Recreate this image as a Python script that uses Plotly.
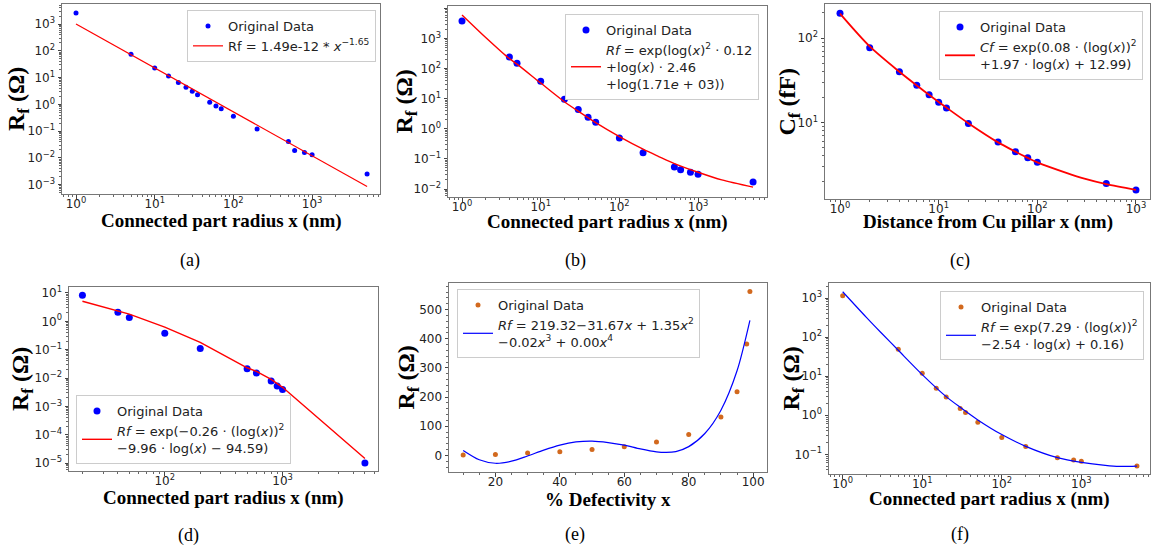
import plotly.graph_objects as go

# ------------------------------------------------------------
# data
# ------------------------------------------------------------

# (a) power law fit
a_x = [1, 5, 10, 15, 20, 25, 30, 35, 50, 60, 70, 100, 200, 500, 600, 800, 1000, 5000]
a_y = [2600, 74, 23, 11.5, 6.5, 4.4, 3.1, 2.3, 1.2, 0.87, 0.69, 0.36, 0.12, 0.041, 0.019, 0.016, 0.013, 0.0025]
a_fit_x = [1, 5000]
a_fit_y = [1000, 0.00085]

# (b)
b_x = [1, 4, 5, 10, 20, 30, 40, 50, 100, 200, 500, 600, 800, 1000, 5000]
b_y = [3800, 240, 150, 38, 9.6, 4.4, 2.4, 1.65, 0.49, 0.16, 0.054, 0.044, 0.036, 0.031, 0.017]
b_fit_x = [1, 2, 3.16, 4, 5, 10, 20, 31.6, 50, 100, 200, 316, 500, 1000, 2000, 5000]
b_fit_y = [6000, 1070, 363, 215, 140, 33, 7.9, 3.5, 1.6, 0.55, 0.21, 0.12, 0.07, 0.036, 0.02, 0.0115]

# (c)
c_x = [1, 2, 4, 6, 8, 10, 12, 20, 40, 60, 80, 100, 500, 1000]
c_y = [198, 77, 40, 27.7, 21.3, 17.4, 14.9, 9.7, 5.85, 4.49, 3.81, 3.36, 1.88, 1.58]
c_fit_x = [1, 2, 4, 6, 8, 10, 12, 20, 40, 60, 80, 100, 200, 300, 500, 1000]
c_fit_y = [196, 80, 40, 27.5, 21.3, 17.5, 15, 9.8, 5.8, 4.5, 3.8, 3.35, 2.5, 2.15, 1.85, 1.58]

# (d)
d_x = [20, 40, 50, 100, 200, 500, 600, 800, 900, 1000, 5000]
d_y = [8.3, 2.1, 1.37, 0.38, 0.11, 0.021, 0.015, 0.0079, 0.0052, 0.0039, 0.00001]
d_fit_y = [5.1, 2.4, 1.8, 0.62, 0.18, 0.023, 0.017, 0.0089, 0.0065, 0.0047, 0.0000144]

# (e) polynomial fit, linear axes
e_x = [10, 20, 30, 40, 50, 60, 70, 80, 90, 95, 98, 99]
e_y = [1, 3, 8, 12.5, 20.5, 29.7, 45.7, 72, 132, 218, 382, 562]
e_fit_x = [10, 15, 20, 25, 30, 35, 40, 45, 50, 55, 60, 65, 70, 73, 76, 80, 85, 90, 95, 99]
e_fit_y = [17, -15, -27, -20, -2, 18, 35, 46, 49, 44, 35, 22, 12, 10, 13, 30, 75, 155, 290, 463]

# (f)
f_x = [1, 5, 10, 15, 20, 30, 35, 50, 100, 200, 500, 800, 1000, 5000]
f_y = [1150, 49, 11.9, 4.9, 2.95, 1.48, 1.17, 0.66, 0.27, 0.158, 0.082, 0.072, 0.066, 0.05]
f_fit_x = [1, 2, 3, 5, 10, 20, 30, 50, 100, 200, 500, 1000, 2000, 3000, 5000]
f_fit_y = [1450, 315, 133, 46, 11, 3.0, 1.6, 0.76, 0.32, 0.16, 0.082, 0.062, 0.052, 0.049, 0.05]

# tick exponents / labels
a_xexp = [0, 1, 2, 3]
a_yexp = [-3, -2, -1, 0, 1, 2, 3]
b_xexp = [0, 1, 2, 3]
b_yexp = [-2, -1, 0, 1, 2, 3, 4]
c_xexp = [0, 1, 2, 3]
c_yexp = [1, 2]
d_xexp = [2, 3]
d_yexp = [-5, -4, -3, -2, -1, 0, 1]
e_xticks = [20, 40, 60, 80, 100]
e_yticks = [0, 100, 200, 300, 400, 500]
f_xexp = [0, 1, 2, 3]
f_yexp = [-1, 0, 1, 2, 3]

captions = ["(a)", "(b)", "(c)", "(d)", "(e)", "(f)"]

BLUE = "#0000ff"
RED = "#ff0000"
ORANGE = "#d2691e"
W, H = 1151, 551

fig = go.Figure()

legend_fit = {
    "a": "Rf = 1.49e-12 * <i>x</i><sup>−1.65</sup>",
    "b": "<i>Rf</i> = exp(log(<i>x</i>)<sup>2</sup> · 0.12<br>+log(<i>x</i>) · 2.46<br>+log(1.71<i>e</i> + 03))",
    "c": "<i>Cf</i> = exp(0.08 · (log(<i>x</i>))<sup>2</sup><br>+1.97 · log(<i>x</i>) + 12.99)",
    "d": "<i>Rf</i> = exp(−0.26 · (log(<i>x</i>))<sup>2</sup><br>−9.96 · log(<i>x</i>) − 94.59)",
    "e": "<i>Rf</i> = 219.32−31.67<i>x</i> + 1.35<i>x</i><sup>2</sup><br>−0.02<i>x</i><sup>3</sup> + 0.00<i>x</i><sup>4</sup>",
    "f": "<i>Rf</i> = exp(7.29 · (log(<i>x</i>))<sup>2</sup><br>−2.54 · log(<i>x</i>) + 0.16)",
}

panels = [
    # key, x, y, fitx, fity, markercolor, linecolor, msize, linewidth, shape
    ("a", a_x, a_y, a_fit_x, a_fit_y, BLUE, RED, 5, 1.2, "linear"),
    ("b", b_x, b_y, b_fit_x, b_fit_y, BLUE, RED, 7, 1.4, "spline"),
    ("c", c_x, c_y, c_fit_x, c_fit_y, BLUE, RED, 7, 1.8, "spline"),
    ("d", d_x, d_y, d_x, d_fit_y, BLUE, RED, 7, 1.4, "linear"),
    ("e", e_x, e_y, e_fit_x, e_fit_y, ORANGE, BLUE, 5, 1.2, "spline"),
    ("f", f_x, f_y, f_fit_x, f_fit_y, ORANGE, BLUE, 5, 1.2, "spline"),
]

# frame boxes in pixels: left, right, top, bottom
frames = {
    "a": (62, 380, 4, 194),
    "b": (448, 767, 6, 197),
    "c": (825, 1150, 4, 199),
    "d": (69, 378, 287, 471),
    "e": (449, 767, 283, 472),
    "f": (829, 1150, 283, 474),
}
xranges = {"a": [-0.178, 3.863], "b": [-0.178, 3.876], "c": [-0.152, 3.142],
           "d": [1.187, 3.81], "e": [5.6, 104.3], "f": [-0.172, 3.863]}
yranges = {"a": [-3.35, 3.75], "b": [-2.265, 4.077], "c": [0.091, 2.407],
           "d": [-5.28, 1.21], "e": [-57, 591], "f": [-1.504, 3.385]}
xexps = {"a": a_xexp, "b": b_xexp, "c": c_xexp, "d": d_xexp, "f": f_xexp}
yexps = {"a": a_yexp, "b": b_yexp, "c": c_yexp, "d": d_yexp, "f": f_yexp}
xtitles = {"a": "Connected part radius x (nm)", "b": "Connected part radius x (nm)",
           "c": "Distance from Cu pillar x (nm)", "d": "Connected part radius x (nm)",
           "e": "% Defectivity x", "f": "Connected part radius x (nm)"}
ytitles = {k: "R<sub>f</sub> (Ω)" for k in "abdef"}
ytitles["c"] = "C<sub>f</sub> (fF)"
# title centres in pixels: x-title y, y-title x
xtitle_y = {"a": 221, "b": 222, "c": 222, "d": 498, "e": 499, "f": 499}
ytitle_x = {"a": 18, "b": 405, "c": 788, "d": 22, "e": 407, "f": 792}
legpos = {
    "a": dict(x=376 / W, y=1 - 10 / H, xanchor="right", yanchor="top"),
    "b": dict(x=759 / W, y=1 - 14 / H, xanchor="right", yanchor="top"),
    "c": dict(x=1143 / W, y=1 - 11 / H, xanchor="right", yanchor="top"),
    "d": dict(x=76 / W, y=1 - 464 / H, xanchor="left", yanchor="bottom"),
    "e": dict(x=457 / W, y=1 - 289 / H, xanchor="left", yanchor="top"),
    "f": dict(x=1144 / W, y=1 - 291 / H, xanchor="right", yanchor="top"),
}

tickfont = dict(family="DejaVu Sans", size=12, color="#222")
layout = {}

for i, (k, x, y, fx, fy, mc, lc, ms, lw, shape) in enumerate(panels):
    n = "" if i == 0 else str(i + 1)
    leg = "legend" + n
    fig.add_trace(go.Scatter(x=x, y=y, mode="markers", name="Original Data",
                             marker=dict(color=mc, size=ms), xaxis="x" + n, yaxis="y" + n,
                             legend=leg))
    fig.add_trace(go.Scatter(x=fx, y=fy, mode="lines", name=legend_fit[k],
                             line=dict(color=lc, width=lw, shape=shape, smoothing=0.8),
                             xaxis="x" + n, yaxis="y" + n, legend=leg))
    l, r, t, b = frames[k]
    common = dict(showline=True, mirror=True, linecolor="#777", linewidth=1,
                  ticks="outside", ticklen=3.5, tickcolor="#444", showgrid=False,
                  zeroline=False, tickfont=tickfont, automargin=False)
    xa = dict(common, domain=[l / W, r / W], anchor="y" + n, range=xranges[k],
              ticklabelstandoff=-5)
    ya = dict(common, domain=[1 - b / H, 1 - t / H], anchor="x" + n, range=yranges[k])
    if k == "e":
        xa.update(type="linear", tickvals=e_xticks,
                  minor=dict(ticks="outside", ticklen=2, dtick=5, tickcolor="#666"))
        ya.update(type="linear", tickvals=e_yticks,
                  minor=dict(ticks="outside", ticklen=2, dtick=20, tickcolor="#666"))
    else:
        xa.update(type="log", tickvals=[10 ** e for e in xexps[k]],
                  ticktext=["10<sup>%d</sup>" % e for e in xexps[k]],
                  minor=dict(ticks="outside", ticklen=2, dtick="D1", tickcolor="#666"))
        ya.update(type="log", tickvals=[10.0 ** e for e in yexps[k]],
                  ticktext=["10<sup>%d</sup>" % e if e >= 0 else "10<sup>−%d</sup>" % -e
                            for e in yexps[k]],
                  minor=dict(ticks="outside", ticklen=2, dtick="D1", tickcolor="#666"))
    layout["xaxis" + n] = xa
    layout["yaxis" + n] = ya
    layout[leg] = dict(legpos[k], bgcolor="white", bordercolor="#ccc", borderwidth=1,
                       font=dict(family="DejaVu Sans", size=13, color="#222"),
                       tracegroupgap=2, itemwidth=30)

    # axis titles as annotations so they sit where the reference has them
    fig.add_annotation(text="<b>" + xtitles[k] + "</b>", x=(l + r) / 2 / W,
                       y=1 - xtitle_y[k] / H, xref="paper", yref="paper", showarrow=False,
                       xanchor="center", yanchor="middle",
                       font=dict(family="Liberation Serif", size=19, color="black"))
    fig.add_annotation(text="<b>" + ytitles[k] + "</b>", x=ytitle_x[k] / W,
                       y=1 - (t + b) / 2 / H, xref="paper", yref="paper", showarrow=False,
                       textangle=-90, xanchor="center", yanchor="middle",
                       font=dict(family="Liberation Serif", size=24, color="black"))

fig.update_layout(**layout)

cap_pos = [(190, 261), (575, 261), (960, 261), (188, 535), (575, 534), (960, 534)]
for c, (cx, cy) in zip(captions, cap_pos):
    fig.add_annotation(text=c, x=cx / W, y=1 - cy / H, xref="paper", yref="paper",
                       showarrow=False, xanchor="center", yanchor="middle",
                       font=dict(family="Liberation Serif", size=18, color="black"))

fig.update_layout(width=W, height=H, margin=dict(l=0, r=0, t=0, b=0),
                  plot_bgcolor="white", paper_bgcolor="white", showlegend=True)

fig.write_html("out.html", config={"displayModeBar": False},
               post_script="document.body.style.margin='0px';")
